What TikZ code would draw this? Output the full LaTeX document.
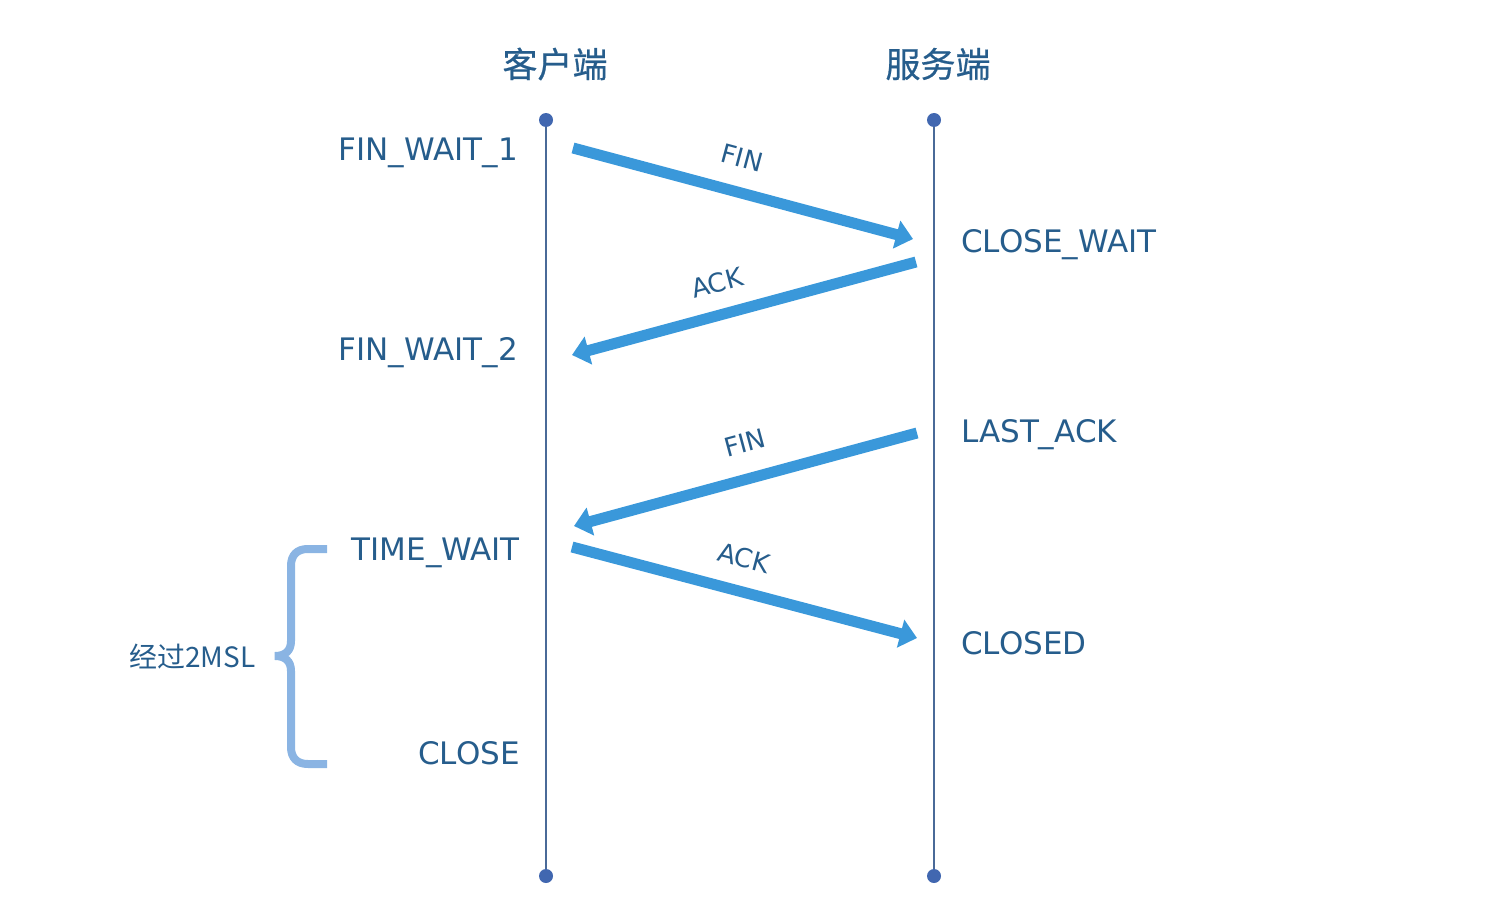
\documentclass[tikz,border=0pt]{standalone}
\usepackage{fontspec}
\setmainfont{DejaVu Sans}
\newfontfamily\cjk{Noto Sans CJK SC}
\newfontfamily\cjkhead[FakeBold=0.6]{Noto Sans CJK SC}
\usetikzlibrary{arrows.meta}
\definecolor{txtblue}{HTML}{265D8C}
\definecolor{linecol}{HTML}{4A6A98}
\definecolor{dotcol}{HTML}{4167B0}
\definecolor{arrcol}{HTML}{3A98DA}
\definecolor{bracecol}{HTML}{8AB4E3}
\tikzset{
  state/.style={text=txtblue, font=\fontsize{31}{36}\selectfont, inner sep=0pt},
  header/.style={text=txtblue, font=\cjkhead\fontsize{35}{40}\selectfont, inner sep=0pt},
  msg/.style={text=txtblue, font=\fontsize{26}{30}\selectfont, inner sep=0pt},
  timeline/.style={draw=linecol, line width=2pt},
  enddot/.style={fill=dotcol},
  msgarrow/.style={draw=arrcol, line width=11pt, -{Triangle[length=17pt,width=28pt]}},
  bracepath/.style={draw=bracecol, line width=8pt},
}
\begin{document}
\begin{tikzpicture}[x=1pt,y=-1pt]
\useasboundingbox (0,0) rectangle (1499,915);
% headers
\node[header] (hc) at (555,64) {客户端};
\node[header] (hs) at (938,64) {服务端};
% timelines
\coordinate (ct) at (546,120);
\coordinate (cb) at (546,876);
\coordinate (st) at (934,120);
\coordinate (sb) at (934,876);
\draw[timeline] (ct) -- (cb);
\draw[timeline] (st) -- (sb);
\fill[enddot] (ct) circle (7);
\fill[enddot] (cb) circle (7);
\fill[enddot] (st) circle (7);
\fill[enddot] (sb) circle (7);
% states
\node[state, anchor=east] (fw1) at (518,153) {FIN\_WAIT\_1};
\node[state, anchor=west] (cw) at (961,245) {CLOSE\_WAIT};
\node[state, anchor=east] (fw2) at (518,353) {FIN\_WAIT\_2};
\node[state, anchor=west] (la) at (961,435) {LAST\_ACK};
\node[state, anchor=east] (tw) at (520,553) {TIME\_WAIT};
\node[state, anchor=west] (cd) at (961,643) {CLOSED};
\node[state, anchor=east] (cl) at (520,753) {CLOSE};
% arrows
\coordinate (a1s) at (573,148);
\coordinate (a1e) at (913,239);
\coordinate (a2s) at (916,262);
\coordinate (a2e) at (572,355);
\coordinate (a3s) at (917,433);
\coordinate (a3e) at (574,526);
\coordinate (a4s) at (572,547);
\coordinate (a4e) at (917,638);
\draw[msgarrow] (a1s) -- (a1e);
\draw[msgarrow] (a2s) -- (a2e);
\draw[msgarrow] (a3s) -- (a3e);
\draw[msgarrow] (a4s) -- (a4e);
\node[msg, rotate=-15] (m1) at (742,158) {FIN};
\node[msg, rotate=15] (m2) at (717,283) {ACK};
\node[msg, rotate=15] (m3) at (745,443) {FIN};
\node[msg, rotate=-15] (m4) at (744,558) {ACK};
% brace
\draw[bracepath] (327,549) -- (308,549) .. controls (297,549) and (291,555) .. (291,566)
  -- (291,641) .. controls (291,651) and (285,656) .. (275,656)
  .. controls (285,656) and (291,661) .. (291,671)
  -- (291,747) .. controls (291,758) and (297,764) .. (308,764) -- (327,764);
\node[text=txtblue, font=\cjk\fontsize{28}{32}\selectfont, inner sep=0pt, anchor=west] (msl) at (129,657) {经过2MSL};
\end{tikzpicture}
\end{document}
